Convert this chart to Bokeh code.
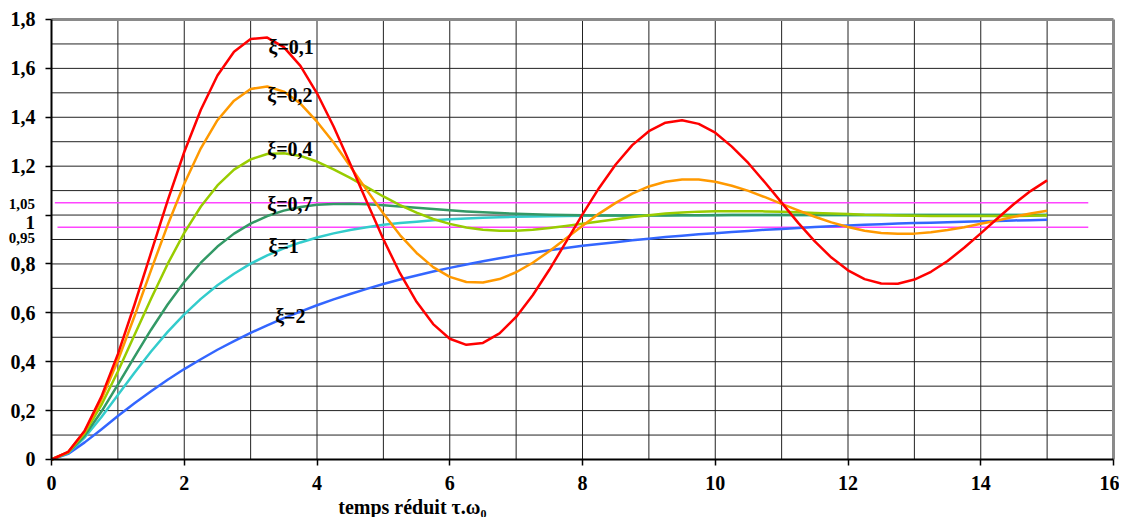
from bokeh.plotting import figure
from bokeh.models import Range1d, FixedTicker, CustomJSTickFormatter
from bokeh.embed import file_html
from bokeh.resources import INLINE
from bokeh.core.properties import value

# reduced time tau.omega0
t = [0, 0.25, 0.5, 0.75, 1, 1.25, 1.5, 1.75, 2, 2.25, 2.5, 2.75, 3, 3.25, 3.5, 3.75,
     4, 4.25, 4.5, 4.75, 5, 5.25, 5.5, 5.75, 6, 6.25, 6.5, 6.75, 7, 7.25, 7.5, 7.75,
     8, 8.25, 8.5, 8.75, 9, 9.25, 9.5, 9.75, 10, 10.25, 10.5, 10.75, 11, 11.25, 11.5,
     11.75, 12, 12.25, 12.5, 12.75, 13, 13.25, 13.5, 13.75, 14, 14.25, 14.5, 14.75, 15]

# step responses
xi_01 = [0, 0.031, 0.118, 0.256, 0.431, 0.633, 0.846, 1.059, 1.258, 1.431, 1.571, 1.668,
         1.720, 1.726, 1.687, 1.610, 1.498, 1.362, 1.210, 1.054, 0.901, 0.762, 0.645, 0.554,
         0.494, 0.469, 0.477, 0.516, 0.583, 0.672, 0.776, 0.889, 1.003, 1.111, 1.207, 1.286,
         1.343, 1.378, 1.388, 1.373, 1.337, 1.280, 1.212, 1.133, 1.051, 0.968, 0.892, 0.826,
         0.774, 0.738, 0.720, 0.719, 0.736, 0.768, 0.812, 0.866, 0.925, 0.986, 1.045, 1.098,
         1.142]
xi_02 = [0, 0.030, 0.115, 0.244, 0.405, 0.586, 0.775, 0.959, 1.128, 1.273, 1.388, 1.468,
         1.516, 1.526, 1.505, 1.456, 1.382, 1.297, 1.200, 1.102, 1.006, 0.918, 0.845, 0.787,
         0.747, 0.726, 0.724, 0.738, 0.766, 0.805, 0.852, 0.904, 0.956, 1.006, 1.050, 1.088,
         1.117, 1.136, 1.145, 1.145, 1.136, 1.120, 1.099, 1.073, 1.046, 1.019, 0.993, 0.970,
         0.951, 0.936, 0.927, 0.923, 0.924, 0.930, 0.939, 0.950, 0.964, 0.978, 0.993, 1.006,
         1.018]
xi_04 = [0, 0.029, 0.108, 0.222, 0.360, 0.509, 0.658, 0.800, 0.927, 1.035, 1.121, 1.186,
         1.228, 1.250, 1.253, 1.242, 1.219, 1.187, 1.152, 1.114, 1.076, 1.041, 1.010, 0.984,
         0.964, 0.949, 0.940, 0.936, 0.936, 0.940, 0.947, 0.955, 0.964, 0.974, 0.983, 0.992,
         0.999, 1.006, 1.010, 1.014, 1.016, 1.016, 1.016, 1.015, 1.013, 1.011, 1.008, 1.006,
         1.004, 1.001, 1.000, 0.998, 0.997, 0.996, 0.996, 0.996, 0.996, 0.996, 0.996, 0.997,
         0.998]
xi_07 = [0, 0.028, 0.098, 0.195, 0.306, 0.420, 0.531, 0.634, 0.726, 0.805, 0.871, 0.924,
         0.965, 0.996, 1.018, 1.033, 1.042, 1.045, 1.046, 1.044, 1.040, 1.035, 1.030, 1.025,
         1.020, 1.015, 1.011, 1.008, 1.005, 1.003, 1.001, 1.000, 0.999, 0.998, 0.998, 0.998,
         0.998, 0.998, 0.999, 0.999, 0.999, 1.000, 1.000, 1.000, 1.000, 1.000, 1.000, 1.000,
         1.000, 1.000, 1.000, 1.000, 1.000, 1.000, 1.000, 1.000, 1.000, 1.000, 1.000, 1.000,
         1.000]
xi_1 = [0, 0.026, 0.090, 0.173, 0.264, 0.355, 0.442, 0.522, 0.594, 0.657, 0.713, 0.760,
        0.801, 0.835, 0.864, 0.888, 0.908, 0.925, 0.939, 0.950, 0.960, 0.967, 0.973, 0.979,
        0.983, 0.986, 0.989, 0.991, 0.993, 0.994, 0.995, 0.996, 0.997, 0.998, 0.998, 0.998,
        0.999, 0.999, 0.999, 0.999, 1.000, 1.000, 1.000, 1.000, 1.000, 1.000, 1.000, 1.000,
        1.000, 1.000, 1.000, 1.000, 1.000, 1.000, 1.000, 1.000, 1.000, 1.000, 1.000, 1.000,
        1.000]
xi_2 = [0, 0.023, 0.070, 0.123, 0.178, 0.230, 0.279, 0.326, 0.370, 0.410, 0.449, 0.484,
        0.518, 0.549, 0.578, 0.605, 0.631, 0.655, 0.677, 0.698, 0.718, 0.736, 0.753, 0.769,
        0.784, 0.798, 0.811, 0.823, 0.835, 0.846, 0.856, 0.865, 0.874, 0.882, 0.889, 0.897,
        0.903, 0.910, 0.915, 0.921, 0.926, 0.931, 0.935, 0.940, 0.943, 0.947, 0.951, 0.954,
        0.957, 0.960, 0.962, 0.965, 0.967, 0.969, 0.971, 0.973, 0.975, 0.976, 0.978, 0.979,
        0.981]

curve_labels = ["ξ=2", "ξ=1", "ξ=0,7", "ξ=0,4", "ξ=0,2", "ξ=0,1"]
curve_values = [xi_2, xi_1, xi_07, xi_04, xi_02, xi_01]
curve_colors = ["#3366FF", "#33CCCC", "#339966", "#99CC00", "#FF9900", "#FF0000"]

# tolerance band +-5 %
band_levels = [1.05, 0.95]
band_start = [0.05, 0.09]
band_end = [15.62, 15.62]

x_ticks = [0, 2, 4, 6, 8, 10, 12, 14, 16]
x_grid = [1, 2, 3, 4, 5, 6, 7, 8, 9, 10, 11, 12, 13, 14, 15]
y_ticks = [0, 0.2, 0.4, 0.6, 0.8, 1, 1.2, 1.4, 1.6, 1.8]
y_grid = [0.1, 0.2, 0.3, 0.4, 0.5, 0.6, 0.7, 0.8, 0.9, 1.0, 1.1, 1.2, 1.3,
          1.4, 1.5, 1.6, 1.7]
x_min, x_max = 0, 16
y_min, y_max = 0, 1.8

FONT = "Liberation Serif"

# the frame fills the whole canvas; axes sit at x=0 / y=0 inside it
p = figure(width=1119, height=517, output_backend="svg", toolbar_location=None,
           x_range=Range1d(-0.7684, 16.0904), y_range=Range1d(-0.2373, 1.8777),
           min_border=0, title=None)
p.min_border_left = 0
p.min_border_right = 0
p.min_border_top = 0
p.min_border_bottom = 0
p.background_fill_color = "white"
p.border_fill_color = "white"
p.outline_line_color = None
p.xgrid.visible = False
p.ygrid.visible = False

# grid lines
p.segment(x0=[x_min] * len(y_grid), y0=y_grid, x1=[x_max] * len(y_grid), y1=y_grid,
          line_color="#222222", line_width=1)
p.segment(x0=x_grid, y0=[y_min] * len(x_grid), x1=x_grid, y1=[y_max] * len(x_grid),
          line_color="#222222", line_width=1)
# gray frame (top and right)
p.segment(x0=[x_min, x_max], y0=[y_max, y_min], x1=[x_max, x_max], y1=[y_max, y_max],
          line_color="#8a8a8a", line_width=3)

# axes
p.xaxis.fixed_location = 0
p.yaxis.fixed_location = 0
p.xaxis.bounds = (x_min, x_max)
p.yaxis.bounds = (y_min, y_max)
p.xaxis.ticker = FixedTicker(ticks=x_ticks)
p.yaxis.ticker = FixedTicker(ticks=y_ticks)
p.yaxis.formatter = CustomJSTickFormatter(code="""
    if (Math.abs(tick - 1) < 1e-9) return '';
    if (tick == 0) return '0';
    return tick.toFixed(1).replace('.', ',');
""")
for ax in (p.xaxis, p.yaxis):
    ax.axis_line_color = "black"
    ax.axis_line_width = 2
    ax.major_tick_line_color = "black"
    ax.major_tick_line_width = 1.5
    ax.major_tick_in = 0
    ax.major_tick_out = 6
    ax.minor_tick_line_color = None
    ax.major_label_text_font = FONT
    ax.major_label_text_font_style = "bold"
    ax.major_label_text_font_size = "20px"
    ax.major_label_text_color = "black"
p.xaxis.major_label_standoff = 11
p.yaxis.major_label_standoff = 10

# tolerance band lines
p.segment(x0=band_start, y0=band_levels, x1=band_end, y1=band_levels,
          line_color="#FF44FF", line_width=1.5)

# curves
for vals, col in zip(curve_values, curve_colors):
    p.line(t, vals, line_color=col, line_width=2.5, line_join="round")

# curve labels
lab_x = [3.37, 3.27, 3.25, 3.25, 3.25, 3.27]
lab_y = [0.589, 0.875, 1.047, 1.272, 1.493, 1.686]
p.text(x=lab_x, y=lab_y, text=curve_labels, text_font=value(FONT),
       text_font_style="bold", text_font_size="20px", text_color="black",
       text_baseline="alphabetic", text_align="left")

# special y labels near 1
p.text(x=[-0.25, -0.25], y=[1.047, 0.908], text=["1,05", "0,95"], text_font=value(FONT),
       text_font_style="bold", text_font_size="15px", text_color="black",
       text_baseline="alphabetic", text_align="right")
p.text(x=[-0.25], y=[0.970], text=["1"], text_font=value(FONT),
       text_font_style="bold", text_font_size="19px", text_color="black",
       text_baseline="alphabetic", text_align="right")

# x axis title
p.text(x=[4.32], y=[-0.1923], text=["temps réduit τ.ω₀"], text_font=value(FONT),
       text_font_style="bold", text_font_size="20px", text_color="black",
       text_baseline="alphabetic", text_align="left")

open("out.html", "w").write(file_html(p, INLINE))
